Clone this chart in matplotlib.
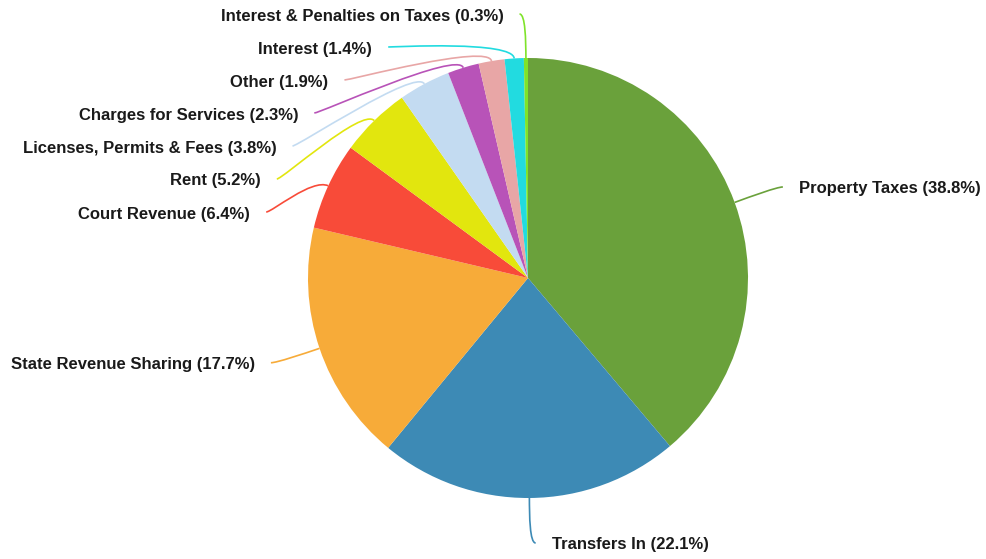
import numpy as np
import matplotlib
matplotlib.use("Agg")
import matplotlib.pyplot as plt
from matplotlib.path import Path
from matplotlib.patches import PathPatch

# Revenue sources, share of total (%)
labels = [
    "Property Taxes",
    "Transfers In",
    "State Revenue Sharing",
    "Court Revenue",
    "Rent",
    "Licenses, Permits & Fees",
    "Charges for Services",
    "Other",
    "Interest",
    "Interest & Penalties on Taxes",
]
values = [38.8, 22.1, 17.7, 6.4, 5.2, 3.8, 2.3, 1.9, 1.4, 0.3]
colors = [
    "#6aa13b", "#3d8ab5", "#f7ab39", "#f84b39", "#e2e60e",
    "#c3dbf1", "#b853b8", "#e8a6a6", "#22dbe0", "#7fe32a",
]

W, H = 987, 559
cx, cy, R = 528, 278, 220
r_lab = 265      # radius where leader lines end
r_stack = 270    # radius used when labels get pushed apart
gap = 33

plt.rcParams["font.family"] = ["Liberation Sans", "DejaVu Sans"]

fig = plt.figure(figsize=(W / 100, H / 100), dpi=100)
ax = fig.add_axes([0, 0, 1, 1])

# y axis runs downward, so counterclock in data space reads clockwise on screen
ax.pie(values, colors=colors, center=(cx, cy), radius=R, startangle=-90,
       counterclock=True, wedgeprops=dict(linewidth=0))
ax.set_xlim(0, W)
ax.set_ylim(H, 0)
ax.set_aspect("equal")
ax.axis("off")

# label anchor layout
total = sum(values)
cum = np.cumsum([0] + values[:-1]) / total * 360
mids = np.radians(cum + np.array(values) / total * 180)
items = []
for i, t in enumerate(mids):
    s, c = np.sin(t), np.cos(t)
    side = 1 if s >= 0 else -1
    items.append(dict(i=i, s=s, c=c, side=side,
                      start=(cx + R * s, cy - R * c),
                      ex=cx + r_lab * s + 6 * side, ey=cy - r_lab * c))


def spread(group, sign, limit):
    prev = -1e9 * sign
    for d in group:
        if sign > 0:
            y = max(d["ey"], prev + gap, limit)
        else:
            y = min(d["ey"], prev - gap, limit)
        if abs(y - d["ey"]) > 10:
            dy = y - cy
            d["ex"] = cx + d["side"] * np.sqrt(max(r_stack ** 2 - dy ** 2, 0))
        d["ey"] = y
        prev = y


spread(sorted([d for d in items if d["side"] < 0], key=lambda d: d["ey"]), 1, 14)
spread(sorted([d for d in items if d["side"] > 0], key=lambda d: -d["ey"]), -1, 543)

for d in items:
    i = d["i"]
    sx, sy = d["start"]
    ex, ey, side = d["ex"], d["ey"], d["side"]
    p1 = (sx + 18 * d["s"], sy - 18 * d["c"])
    p2 = (ex - 6 * side, ey)
    path = Path([(sx, sy), p1, p2, (ex, ey)],
                [Path.MOVETO, Path.CURVE4, Path.CURVE4, Path.CURVE4])
    ax.add_patch(PathPatch(path, fill=False, edgecolor=colors[i], linewidth=1.2))
    ax.text(ex + 16 * side, ey + 2, f"{labels[i]} ({values[i]}%)",
            ha="left" if side > 0 else "right", va="center",
            fontsize=12, fontweight="bold", color="#1a1a1a")

fig.savefig("out.png", dpi=100, facecolor="white")
